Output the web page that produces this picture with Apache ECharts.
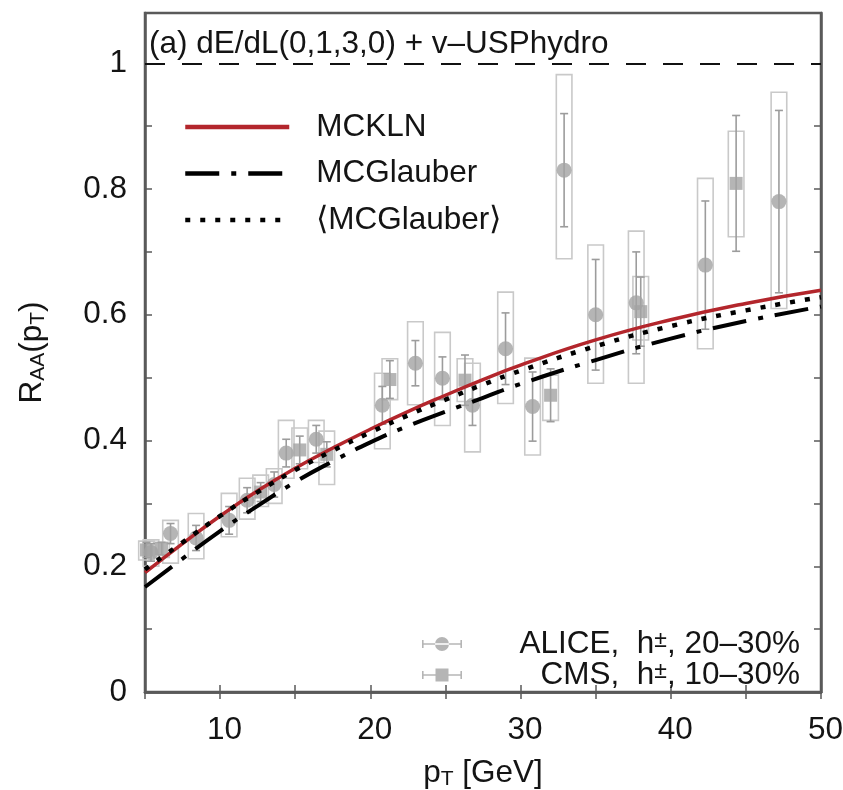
<!DOCTYPE html>
<html><head><meta charset="utf-8">
<script src="https://cdn.jsdelivr.net/npm/echarts@6/dist/echarts.min.js"></script>
<style>html,body{margin:0;padding:0;background:#fff}#c{width:843px;height:790px}</style>
</head><body><div id="c"></div>
<script>
// ---------- data ----------
const curvePt = [5, 7.5, 10, 12.5, 15, 17.5, 20, 22.5, 25, 27.5, 30, 35, 40, 45, 50];
const mckln        = [0.190,0.236,0.280,0.320,0.356,0.388,0.418,0.446,0.472,0.497,0.520,0.560,0.592,0.618,0.639];
const mcglauber    = [0.167,0.212,0.256,0.296,0.334,0.367,0.397,0.423,0.446,0.468,0.490,0.528,0.562,0.590,0.613];
const mcglauberAvg = [0.195,0.238,0.280,0.318,0.353,0.384,0.413,0.440,0.465,0.489,0.511,0.550,0.582,0.607,0.628];

const alicePt    = [5.4, 6.7, 8.4, 10.6, 11.8, 13.6, 14.4, 16.4, 20.8, 23.0, 24.8, 26.8, 29.0, 30.8, 32.9, 35.0, 37.7, 42.3, 47.2];
const aliceRaa   = [0.222,0.252,0.245,0.273,0.305,0.330,0.380,0.402,0.456,0.523,0.499,0.456,0.546,0.454,0.830,0.600,0.619,0.679,0.780];
const aliceStat  = [0.014,0.016,0.020,0.022,0.020,0.020,0.022,0.022,0.030,0.036,0.034,0.032,0.057,0.055,0.090,0.088,0.081,0.102,0.145];
const aliceSysLo = [0.200,0.205,0.212,0.247,0.275,0.300,0.340,0.365,0.387,0.457,0.424,0.382,0.459,0.377,0.689,0.491,0.491,0.546,0.610];
const aliceSysHi = [0.242,0.273,0.284,0.316,0.340,0.355,0.432,0.432,0.507,0.589,0.572,0.523,0.636,0.531,0.982,0.711,0.733,0.817,0.954];

const cmsPt    = [5.1, 6.1, 12.7, 15.3, 17.1, 21.3, 26.3, 32.0, 38.0, 44.35];
const cmsRaa   = [0.226,0.228,0.318,0.385,0.378,0.497,0.496,0.472,0.605,0.809];
const cmsStat  = [0.012,0.010,0.015,0.022,0.020,0.030,0.040,0.042,0.055,0.108];
const cmsSysLo = [0.210,0.214,0.295,0.355,0.330,0.465,0.462,0.432,0.560,0.724];
const cmsSysHi = [0.240,0.238,0.345,0.420,0.415,0.530,0.530,0.504,0.661,0.892];

const xTickLabels = ['10','20','30','40','50'];
const yTickLabels = ['0','0.2','0.4','0.6','0.8','1'];
const curveNames = ['MCKLN','MCGlauber','⟨MCGlauber⟩'];
const dataLabelParts = {
  ALICE: ['ALICE,  h', '±', ', 20–30%'],
  CMS:   ['CMS,  h', '±', ', 10–30%']
};
const titleText = '(a) dE/dL(0,1,3,0) + v–USPhydro';

// ---------- styling ----------
const FONT = '"Liberation Sans", Arial, Helvetica, sans-serif';
const FS = 31.5;
const TXT = '#141414';
const FRAME = '#5a5a5a';
const MARK = '#a2a2a2';
const BOXC = '#c9c9c9';
const RED = '#b3262c';
const BOX_HALF = 0.52;

function pairs(xs, ys) { return xs.map((x, i) => [x, ys[i]]); }
function boxData(xs, lo, hi) { return xs.map((x, i) => [x, lo[i], hi[i]]); }
function errData(xs, ys, e) { return xs.map((x, i) => [x, ys[i] - e[i], ys[i] + e[i]]); }

function renderBox(params, api) {
  const x = api.value(0), lo = api.value(1), hi = api.value(2);
  const p1 = api.coord([x - BOX_HALF, hi]);
  const p2 = api.coord([x + BOX_HALF, lo]);
  return { type: 'rect', shape: { x: p1[0], y: p1[1], width: p2[0] - p1[0], height: p2[1] - p1[1] },
           style: { fill: 'rgba(0,0,0,0)', stroke: BOXC, lineWidth: 1.6 } };
}
function renderErr(params, api) {
  const x = api.value(0), lo = api.value(1), hi = api.value(2);
  const a = api.coord([x, hi]), b = api.coord([x, lo]);
  const c = 4;
  const st = { stroke: '#9c9c9c', lineWidth: 1.6 };
  return { type: 'group', children: [
    { type: 'line', shape: { x1: a[0], y1: a[1], x2: b[0], y2: b[1] }, style: st },
    { type: 'line', shape: { x1: a[0] - c, y1: a[1], x2: a[0] + c, y2: a[1] }, style: st },
    { type: 'line', shape: { x1: b[0] - c, y1: b[1], x2: b[0] + c, y2: b[1] }, style: st }
  ]};
}

const circIcon = 'path://M0,6.2H40V7.8H0Z M0,3H1.6V11H0Z M38.4,3H40V11H38.4Z M13,7A7,7 0 1 0 27,7A7,7 0 1 0 13,7Z';
const sqIcon   = 'path://M0,6.2H40V7.8H0Z M0,3H1.6V11H0Z M38.4,3H40V11H38.4Z M13.5,0.5H26.5V13.5H13.5Z';

const axisCommonX = {
  type: 'value', min: 5, max: 50, interval: 5,
  axisLine: { show: true, lineStyle: { color: FRAME, width: 2.5 } },
  axisTick: { show: true, inside: true, length: 7, lineStyle: { color: FRAME, width: 1.5 } },
  splitLine: { show: false }
};
const axisCommonY = {
  type: 'value', min: 0, max: 1.08, interval: 0.1,
  axisLine: { show: true, lineStyle: { color: FRAME, width: 2.5 } },
  axisTick: { show: true, inside: true, length: 7, lineStyle: { color: FRAME, width: 1.5 } },
  splitLine: { show: false }
};

const richName = {
  n: { fontSize: FS, fontFamily: FONT, color: TXT, lineHeight: 34 },
  s: { fontSize: 21, fontFamily: FONT, color: TXT, lineHeight: 12, verticalAlign: 'bottom' }
};

const chart = echarts.init(document.getElementById('c'), null, { renderer: 'canvas' });
chart.setOption({
  animation: false,
  backgroundColor: '#ffffff',
  title: { text: titleText, left: 144, top: 23,
    textStyle: { fontSize: FS, fontWeight: 'normal', color: TXT, fontFamily: FONT, lineHeight: 32 } },
  grid: { left: 145, right: 22, top: 13, bottom: 98, show: true, borderColor: FRAME, borderWidth: 2.5,
    containLabel: false, outerBoundsMode: 'none' },
  legend: [
    { data: curveNames.map(n => ({ name: n, lineStyle: { width: 4.5 } })), orient: 'vertical', left: 178, top: 106,
      itemWidth: 104, itemHeight: 20, itemGap: 14.5, selectedMode: false,
      itemStyle: { opacity: 0, color: 'rgba(0,0,0,0)', borderWidth: 0 },
      lineStyle: { width: 4.5, type: 'inherit', color: 'inherit', opacity: 1 },
      textStyle: { fontSize: FS, color: TXT, fontFamily: FONT, lineHeight: 30, padding: [0, 0, 0, 22] } },
    { data: [{ name: 'ALICE', icon: circIcon }, { name: 'CMS', icon: sqIcon }],
      orient: 'vertical', left: 417, top: 623, itemWidth: 40, itemHeight: 14, itemGap: -1,
      selectedMode: false,
      formatter: name => { const p = dataLabelParts[name]; return '{t|' + p[0] + '}{u|' + p[1] + '}{t|' + p[2] + '}'; },
      textStyle: { width: 333, fontSize: FS, fontFamily: FONT, color: TXT, lineHeight: 30,
        rich: {
          t: { fontSize: FS, fontFamily: FONT, color: TXT, lineHeight: 30, align: 'right' },
          u: { fontSize: 23, fontFamily: FONT, color: TXT, lineHeight: 10, verticalAlign: 'top', align: 'right' }
        } } }
  ],
  xAxis: [
    Object.assign({}, axisCommonX, { position: 'bottom',
      axisLabel: { show: true, fontSize: FS, color: TXT, fontFamily: FONT, margin: 22, padding: [0, 0, 0, 9],
        formatter: v => { const s = xTickLabels.find(t => Math.abs(parseFloat(t) - v) < 1e-6); return s || ''; } },
      name: '{n|p}{s|T}{n| [GeV]}', nameLocation: 'middle', nameGap: 64,
      nameTextStyle: { rich: richName } }),
    Object.assign({}, axisCommonX, { position: 'top', axisLabel: { show: false } })
  ],
  yAxis: [
    Object.assign({}, axisCommonY, { position: 'left',
      axisLabel: { show: true, fontSize: FS, color: TXT, fontFamily: FONT, margin: 18,
        formatter: v => { const s = yTickLabels.find(t => Math.abs(parseFloat(t) - v) < 1e-6); return s || ''; } },
      name: '{n|R}{s|AA}{n|(p}{s|T}{n|)}', nameLocation: 'middle', nameGap: 96,
      nameTextStyle: { rich: richName } }),
    Object.assign({}, axisCommonY, { position: 'right', axisLabel: { show: false } })
  ],
  series: [
    { type: 'custom', name: 'ALICE sys', renderItem: renderBox, data: boxData(alicePt, aliceSysLo, aliceSysHi), z: 1, silent: true },
    { type: 'custom', name: 'CMS sys', renderItem: renderBox, data: boxData(cmsPt, cmsSysLo, cmsSysHi), z: 1, silent: true },
    { type: 'custom', name: 'ALICE stat', renderItem: renderErr, data: errData(alicePt, aliceRaa, aliceStat), z: 2, silent: true },
    { type: 'custom', name: 'CMS stat', renderItem: renderErr, data: errData(cmsPt, cmsRaa, cmsStat), z: 2, silent: true },
    { type: 'scatter', name: 'ALICE', data: pairs(alicePt, aliceRaa), symbol: 'circle', symbolSize: 15,
      itemStyle: { color: MARK }, z: 3 },
    { type: 'scatter', name: 'CMS', data: pairs(cmsPt, cmsRaa), symbol: 'rect', symbolSize: 13,
      itemStyle: { color: MARK }, z: 3 },
    { type: 'line', name: curveNames[1], data: pairs(curvePt, mcglauber), showSymbol: false, symbol: 'none', smooth: true,
      itemStyle: { color: '#000' },
      lineStyle: { color: '#000', width: 4, type: [34, 12, 5, 12], cap: 'butt' }, z: 5 },
    { type: 'line', name: curveNames[2], data: pairs(curvePt, mcglauberAvg), showSymbol: false, symbol: 'none', smooth: true,
      itemStyle: { color: '#000' },
      lineStyle: { color: '#000', width: 4.5, type: [5, 10], cap: 'butt' }, z: 6 },
    { type: 'line', name: curveNames[0], data: pairs(curvePt, mckln), showSymbol: false, symbol: 'none', smooth: true,
      itemStyle: { color: RED },
      lineStyle: { color: RED, width: 3.5 }, z: 4,
      markLine: { silent: true, symbol: 'none', label: { show: false },
        lineStyle: { color: '#111', width: 2, type: [20, 17] },
        data: [{ yAxis: 1 }] } }
  ]
});
</script></body></html>
